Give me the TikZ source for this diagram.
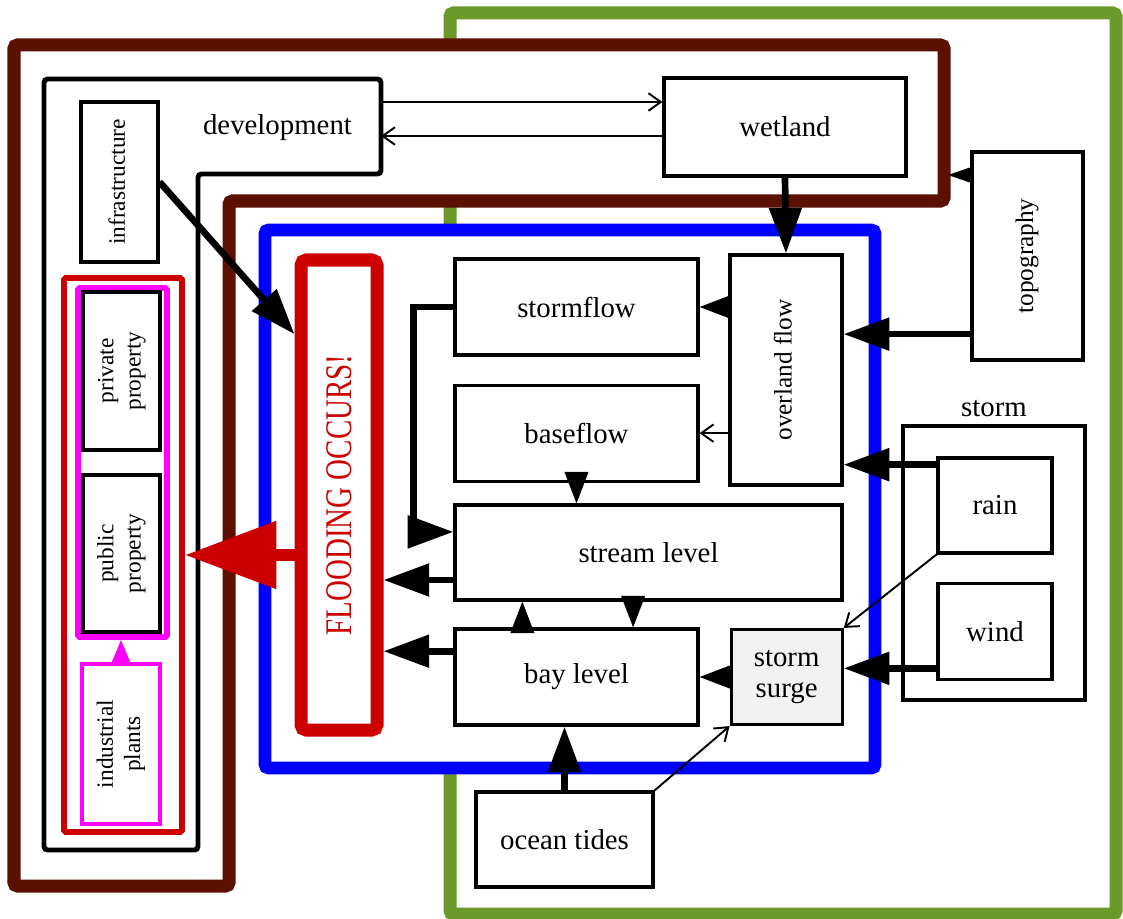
\documentclass[tikz,border=0pt]{standalone}
\usepackage{graphicx}
\usepackage{fontspec}
\setmainfont{Liberation Serif}
\usepackage{tikz}
\usetikzlibrary{arrows.meta, calc, positioning}

\definecolor{landbrown}{RGB}{92,16,0}
\definecolor{coastgreen}{RGB}{107,154,42}
\definecolor{floodred}{RGB}{204,0,0}
\definecolor{propmagenta}{RGB}{255,0,255}
\definecolor{surgegray}{RGB}{242,242,242}

\newcommand\boxfont{\fontsize{16.4}{17.5}\selectfont}
\newcommand\upfont{\fontsize{14.4}{16}\selectfont}
\newcommand\sidefont{\fontsize{13.3}{15.5}\selectfont}
\newcommand\floodfont{\fontsize{21.4}{24}\selectfont}
\newcommand\uptext[1]{\rotatebox{90}{\begin{tabular}{@{}c@{}}#1\end{tabular}}}

\tikzset{
  dims/.style 2 args={minimum width=#1*0.02cm, minimum height=#2*0.02cm},
  box/.style={draw, line width=1.8pt, inner sep=0pt, align=center, font=\boxfont},
  wall/.style={line width=#1, rounded corners=2pt, fill=white},
  heavy/.style={line width=3.8pt, -{Triangle[length=26pt, width=18pt]}},
  light/.style={line width=1pt, -{Triangle[length=18pt, width=13.5pt]}},
  tiny/.style={line width=1pt, -{Triangle[length=13.5pt, width=9pt]}},
  barb/.style={line width=1.1pt, -{Straight Barb[length=7pt, width=10pt]}}
}

\begin{document}
\begin{tikzpicture}[x=0.02cm, y=-0.02cm]
  \useasboundingbox (0,0) rectangle (1123,919);

  % zones
  \draw[wall=7.4pt, draw=coastgreen] (450,13) rectangle (1116,914);
  \draw[wall=7.4pt, draw=landbrown]
    (14,45) -- (944,45) -- (944,201) -- (229,201) -- (229,886) -- (14,886) -- cycle;
  \draw[wall=7.2pt, draw=blue] (265,230) rectangle (875,768);
  \draw[wall=2.8pt, draw=black]
    (44,79) -- (381,79) -- (381,174) -- (198,174) -- (198,850) -- (44,850) -- cycle;

  \node[font=\boxfont] (dev) at (277.5,128) {development};
  \coordinate (devout) at (381,102);
  \coordinate (devin) at (381,136);
  \coordinate (landedge) at (948,175);

  \node[box, dims={242}{98}] (wetland) at (785,127) {wetland};
  \node[box, dims={111}{208}, font=\upfont] (topo) at (1027.5,256) {\uptext{topography}};
  \node[box, dims={77}{160}, font=\sidefont] (infra) at (119.5,182) {\uptext{infrastructure}};

  % property
  \node[draw=floodred, line width=3.4pt, rounded corners=1pt, dims={118}{554}] (props) at (123,555) {};
  \node[draw=propmagenta, line width=3.4pt, rounded corners=1pt, dims={89}{349}] (owners) at (122.5,462.5) {};
  \node[box, dims={77}{158}, font=\sidefont] (private) at (121.5,371) {\uptext{private\\property}};
  \node[box, dims={77}{157}, font=\sidefont] (public) at (121.5,553.5) {\uptext{public\\property}};
  \node[box, draw=propmagenta, line width=2.2pt, dims={78}{160}, font=\sidefont] (industry) at (121,744) {\uptext{industrial\\plants}};

  \node[draw=floodred, line width=7.4pt, rounded corners=3pt, dims={76}{470}, inner sep=0pt,
        text=floodred, font=\floodfont] (flood) at (339,495)
        {\rotatebox{90}{\scalebox{0.77}[1]{FLOODING OCCURS!}}};

  % water
  \node[box, dims={243}{96}] (stormflow) at (576.5,307) {stormflow};
  \node[box, dims={243}{96}, below=0.54cm of stormflow] (baseflow) {baseflow};
  \node[box, dims={112}{230}, font=\upfont] (overland) at (786,370) {\uptext{overland flow}};
  \node[box, dims={387}{95}] (stream) at (648.5,552.5) {stream level};
  \node[box, dims={243}{96}] (bay) at (576.5,677) {bay level};
  \node[box, dims={111}{95}, fill=surgegray, right=0.6cm of bay] (surge) {storm\\surge};
  \node[box, dims={177}{95}] (ocean) at (564.5,839.5) {ocean tides};

  \node[box, line width=2.8pt, dims={182}{274},
        label={[font=\boxfont, inner sep=2pt, label distance=1.5pt]above:storm}] (storm) at (994,563) {};
  \node[box, dims={114}{95}] (rain) at (995,505.5) {rain};
  \node[box, dims={114}{96}, below=0.54cm of rain] (wind) {wind};

  \path ($(topo.north west)!.87!(topo.south west)$) coordinate (topoout)
        ($(rain.north west)!.084!(rain.south west)$) coordinate (rainout)
        ($(wind.north west)!.875!(wind.south west)$) coordinate (windout)
        ($(stream.north west)!.29!(stream.south west)$) coordinate (streamin)
        ($(stream.north west)!.78!(stream.south west)$) coordinate (streamout)
        ($(bay.north west)!.24!(bay.south west)$) coordinate (bayout)
        ($(bay.north west)!.28!(bay.north east)$) coordinate (bayup)
        ($(bay.north west)!.73!(bay.north east)$) coordinate (baydown)
        ($(flood.north west)!.167!(flood.south west)$) coordinate (floodin);

  \draw[barb] (devout) -- (devout -| wetland.west);
  \draw[barb] (devin -| wetland.west) -- (devin);
  \draw[heavy] (wetland.south) -- (overland.north);
  \draw[tiny] (landedge -| topo.west) -- (landedge);
  \draw[heavy] (topoout) -- (overland.east |- topoout);
  \draw[heavy] (rainout) -- (overland.east |- rainout);
  \draw[barb] (rain.south west) -- (surge.north east);
  \draw[heavy] (windout) -- (surge.east |- windout);

  \draw[light] (overland.west |- stormflow.east) -- (stormflow.east);
  \draw[barb] (overland.west |- baseflow.east) -- (baseflow.east);
  \draw[light] (baseflow.south) -- (baseflow.south |- stream.north);
  \draw[heavy] (stormflow.west) -- ++(-40,0) |- (streamin);
  \draw[light] (bayup) -- (bayup |- stream.south);
  \draw[light] (baydown |- stream.south) -- (baydown);
  \draw[light] (surge.west) -- (surge.west -| bay.east);
  \draw[heavy] (ocean.north) -- (ocean.north |- bay.south);
  \draw[barb] (ocean.north east) -- (surge.south west);

  \draw[heavy] (streamout) -- (flood.east |- streamout);
  \draw[heavy] (bayout) -- (flood.east |- bayout);
  \draw[heavy] (infra.east) -- (floodin);
  \draw[floodred, line width=6.8pt, -{Triangle[length=52pt, width=37pt]}]
    (flood.west |- props.east) -- (props.east);
  \draw[propmagenta, line width=1pt, -{Triangle[length=13.5pt, width=11pt]}]
    (industry.north) -- (industry.north |- owners.south);
\end{tikzpicture}
\end{document}
